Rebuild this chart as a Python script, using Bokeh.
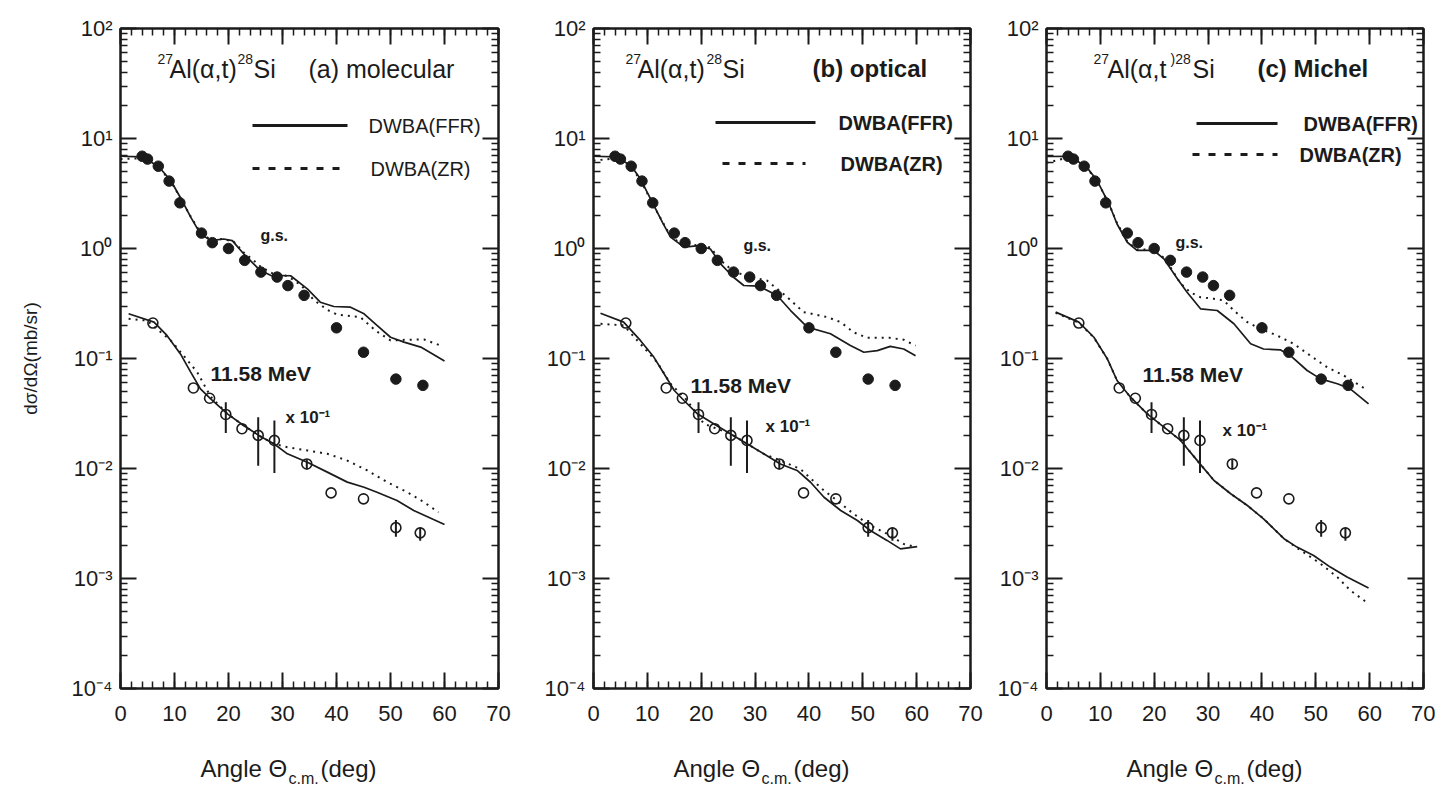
from bokeh.plotting import figure
from bokeh.models import (Range1d, LinearAxis, LogAxis, FixedTicker, SingleIntervalTicker,
                          CustomJSTickFormatter, Label, Arrow)
from bokeh.layouts import row, column
from bokeh.embed import file_html
from bokeh.resources import INLINE

# ---------------- data ----------------
# ground state (g.s.) experimental points
ANGLE_GS = [4, 5, 7, 9, 11, 15, 17, 20, 23, 26, 29, 31, 34, 40, 45, 51, 56]
SIGMA_GS = [6.9, 6.5, 5.6, 4.1, 2.6, 1.38, 1.13, 1.0, 0.78, 0.61, 0.55, 0.46, 0.375,
            0.19, 0.114, 0.065, 0.057]

# 11.58 MeV state (x 10^-1) experimental points with error bars
ANGLE_EX = [6, 13.5, 16.5, 19.5, 22.5, 25.5, 28.5, 34.5, 39, 45, 51, 55.5]
SIGMA_EX = [0.21, 0.054, 0.0435, 0.031, 0.023, 0.020, 0.018, 0.011, 0.0060, 0.0053, 0.0029, 0.0026]
EX_LO = [0.21, 0.054, 0.0435, 0.021, 0.023, 0.0106, 0.0091, 0.0098, 0.0060, 0.0053, 0.0024, 0.0022]
EX_HI = [0.21, 0.054, 0.0435, 0.040, 0.023, 0.0293, 0.0273, 0.0121, 0.0060, 0.0053, 0.0034, 0.0029]

# (a) molecular
A_GS_FFR_X = [0, 4, 7, 9.3, 11.4, 13, 14.8, 16.7, 19.1, 20.7, 22.8, 25.9, 27.8, 31.5, 34.6, 37,
              39.5, 42.6, 45.1, 47.5, 50, 52.5, 55.6, 60]
A_GS_FFR_Y = [6.9, 6.8, 5.6, 4.15, 2.73, 1.93, 1.36, 1.18, 1.22, 1.18, 0.895, 0.63, 0.57, 0.565,
              0.43, 0.325, 0.297, 0.293, 0.255, 0.2, 0.156, 0.141, 0.127, 0.095]
A_GS_ZR_X = [0, 4, 7, 9.3, 11.4, 13, 14.8, 16.7, 19.1, 21, 23, 24.4, 26, 28, 31, 33.5, 35.8,
             38.3, 40.1, 44.4, 47.2, 50, 53.1, 56.2, 59.3]
A_GS_ZR_Y = [6.5, 6.6, 5.5, 4.1, 2.7, 1.95, 1.4, 1.2, 1.22, 1.15, 0.9, 0.8, 0.68, 0.6, 0.56, 0.46,
             0.34, 0.277, 0.251, 0.238, 0.18, 0.146, 0.148, 0.149, 0.131]
A_EX_FFR_X = [1.5, 6.2, 8.6, 11.1, 13, 14.8, 16.7, 19.8, 22.8, 25.6, 28.4, 30.9, 34.6, 38.3, 42,
              45.1, 47.5, 51.2, 54.3, 60]
A_EX_FFR_Y = [0.255, 0.214, 0.162, 0.110, 0.0752, 0.053, 0.043, 0.0314, 0.0246, 0.020, 0.0168,
              0.0136, 0.0114, 0.00927, 0.00752, 0.00676, 0.00609, 0.00512, 0.00415, 0.0031]
A_EX_ZR_X = [1.5, 4.9, 9.3, 11.7, 14.2, 16.7, 19.8, 22.8, 25.6, 28.4, 30.9, 34.6, 38.3, 42, 45.7,
             49.4, 53.1, 56.2, 58.9]
A_EX_ZR_Y = [0.23, 0.221, 0.146, 0.106, 0.0752, 0.045, 0.0314, 0.0246, 0.020, 0.0168, 0.0156,
             0.0146, 0.0136, 0.0118, 0.0096, 0.0075, 0.0061, 0.00494, 0.0040]

# (b) optical
B_GS_FFR_X = [0, 4.1, 6.9, 8.7, 10.9, 12.8, 14.3, 16.8, 19.6, 21.7, 23.6, 26, 27.9, 30.7, 34.1,
              36.6, 39.7, 44, 47.7, 50.2, 52.7, 55.1, 57.6, 59.8]
B_GS_FFR_Y = [6.9, 6.8, 5.7, 4.3, 2.64, 1.73, 1.27, 1.03, 1.06, 0.99, 0.726, 0.548, 0.461, 0.455,
              0.374, 0.273, 0.193, 0.168, 0.131, 0.114, 0.118, 0.129, 0.122, 0.106]
B_GS_ZR_X = [0, 4.1, 6.9, 8.7, 10.9, 12.8, 14.3, 16.8, 19.6, 21.7, 23.6, 26, 29.1, 32.2, 36, 39,
             43.4, 45.9, 48.3, 50.8, 55.1, 57.6, 59.8]
B_GS_ZR_Y = [6.3, 6.6, 5.6, 4.2, 2.6, 1.75, 1.3, 1.05, 1.08, 1.02, 0.78, 0.62, 0.548, 0.512, 0.36,
             0.264, 0.238, 0.214, 0.173, 0.154, 0.154, 0.148, 0.131]
B_EX_FFR_X = [1.3, 5.6, 8.7, 11.2, 13.1, 15, 16.8, 19.3, 22.3, 25.4, 28.5, 31.6, 34.7, 37.8, 40.3,
              42.8, 45.9, 49, 51.4, 54.5, 57, 60.1]
B_EX_FFR_Y = [0.258, 0.214, 0.146, 0.103, 0.0726, 0.0512, 0.0415, 0.0314, 0.0255, 0.0207, 0.0168,
              0.0136, 0.011, 0.0096, 0.0075, 0.00548, 0.00415, 0.00337, 0.00273, 0.00222, 0.00186,
              0.00195]
B_EX_ZR_X = [1.3, 5.6, 8.7, 11.8, 14.3, 17.4, 20.5, 25.4, 28.5, 31.6, 34.7, 38.4, 42.8, 45.2, 48.3,
             51.4, 54.5, 57.6, 59.8]
B_EX_ZR_Y = [0.207, 0.2, 0.136, 0.0927, 0.0589, 0.0415, 0.0255, 0.0207, 0.0168, 0.0136, 0.0118,
             0.0099, 0.0063, 0.00512, 0.00387, 0.00303, 0.00255, 0.00206, 0.00193]

# (c) Michel
C_GS_FFR_X = [0, 3.8, 7.2, 9.4, 11.6, 13.1, 15, 16.8, 19.9, 21.8, 24.3, 26.1, 28.6, 31.7, 34.8,
              37.9, 40.3, 43.4, 45.3, 48.4, 50.9, 54, 56.4, 59.8]
C_GS_FFR_Y = [6.86, 6.9, 5.7, 4.15, 2.55, 1.67, 1.14, 0.96, 0.96, 0.805, 0.53, 0.40, 0.283, 0.273,
              0.207, 0.136, 0.122, 0.12, 0.106, 0.0778, 0.0653, 0.0589, 0.053, 0.0387]
C_GS_ZR_X = [0, 3.8, 7.2, 9.4, 11.6, 13.1, 15, 16.8, 19.9, 21.8, 23, 24.9, 26.7, 28.6, 31, 32.9,
             34.8, 37.3, 39.7, 42.8, 45.9, 49, 52.1, 55.2, 59.2]
C_GS_ZR_Y = [6.0, 6.7, 5.6, 4.1, 2.55, 1.7, 1.16, 0.98, 0.98, 0.82, 0.676, 0.48, 0.40, 0.36, 0.35,
             0.337, 0.273, 0.214, 0.186, 0.162, 0.136, 0.106, 0.0834, 0.07, 0.053]
C_EX_FFR_X = [1.7, 6, 8.8, 11.3, 13.1, 15.6, 18.7, 21.8, 24.9, 28, 31.1, 34.2, 37.3, 40.3, 44.1,
              46.5, 49.6, 52.7, 55.8, 59.8]
C_EX_FFR_Y = [0.264, 0.214, 0.156, 0.0993, 0.0631, 0.0445, 0.0314, 0.0238, 0.018, 0.0118, 0.00778,
              0.00589, 0.00461, 0.00349, 0.0023, 0.00193, 0.00162, 0.00127, 0.00103, 0.00082]
C_EX_ZR_X = [1.7, 6, 8.8, 11.3, 13.1, 15.6, 18.7, 21.8, 24.9, 28, 31.1, 34.2, 37.3, 40.3, 44.1,
             46.5, 50.9, 54, 56.4, 59.8]
C_EX_ZR_Y = [0.26, 0.212, 0.155, 0.099, 0.063, 0.0445, 0.0314, 0.0238, 0.018, 0.0118, 0.0078,
             0.0059, 0.0046, 0.0035, 0.0023, 0.0019, 0.00136, 0.00103, 0.00078, 0.00059]

Y_MAJOR = [1e-4, 1e-3, 1e-2, 1e-1, 1e0, 1e1, 1e2]
Y_MINOR = [m * d for d in [1e-4, 1e-3, 1e-2, 1e-1, 1e0, 1e1] for m in range(2, 10)]

LEGEND_LABELS = ["DWBA(FFR)", "DWBA(ZR)"]

# ---------------- style ----------------
INK = "#1b1b1b"
FONT = "Liberation Sans"
SUP = {"-": "\u207b", "0": "\u2070", "1": "\u00b9", "2": "\u00b2", "3": "\u00b3", "4": "\u2074",
       "5": "\u2075", "6": "\u2076", "7": "\u2077", "8": "\u2078", "9": "\u2079", ")": "\u207e"}

FMT_CODE = """
const sup = %s;
const e = Math.round(Math.log10(tick));
return '10' + String(e).split('').map(c => sup[c]).join('');
""" % ("{" + ",".join('"%s":"%s"' % (k, v) for k, v in SUP.items()) + "}")

FRAME_H = 660
TOP = 28
BOTTOM = 45
TITLE_H = 56


def sup(s):
    return "".join(SUP.get(c, c) for c in s)


def style_axis(ax):
    ax.axis_line_color = INK
    ax.axis_line_width = 2
    ax.major_tick_line_color = INK
    ax.minor_tick_line_color = INK
    ax.major_tick_line_width = 2
    ax.minor_tick_line_width = 1.5
    ax.major_tick_in = 16
    ax.major_tick_out = 0
    ax.minor_tick_in = 7
    ax.minor_tick_out = 0
    ax.major_label_text_font = FONT
    ax.major_label_text_font_size = "22px"
    ax.major_label_text_color = INK


def label(p, text, x, y, size, bold=False):
    p.add_layout(Label(x=x, y=y, x_units="screen", y_units="screen", text=text,
                       text_font=FONT, text_font_size="%dpx" % size,
                       text_font_style="bold" if bold else "normal",
                       text_baseline="middle", text_align="left", text_color=INK))


def sample(p, x0, x1, y, dash):
    p.add_layout(Arrow(x_start=x0, y_start=y, x_end=x1, y_end=y,
                       start_units="screen", end_units="screen", start=None, end=None,
                       line_color=INK, line_width=3, line_dash=dash))


def panel(cfg, curves):
    p = figure(x_range=Range1d(0, 70), y_range=Range1d(1e-4, 1e2), y_axis_type="log",
               frame_width=cfg["fw"], frame_height=FRAME_H,
               min_border_left=cfg["bl"], min_border_right=cfg["br"],
               min_border_top=TOP, min_border_bottom=BOTTOM,
               output_backend="svg", toolbar_location=None)
    p.grid.visible = False
    p.outline_line_color = INK
    p.outline_line_width = 2
    p.background_fill_color = "white"
    p.border_fill_color = "white"

    xb = p.below[0]
    yl = p.left[0]
    xb.ticker = SingleIntervalTicker(interval=10, num_minor_ticks=5)
    yl.ticker = FixedTicker(ticks=Y_MAJOR, minor_ticks=Y_MINOR)
    yl.formatter = CustomJSTickFormatter(code=FMT_CODE)
    xb.major_label_standoff = 17
    yl.major_label_standoff = 8
    xt = LinearAxis(ticker=SingleIntervalTicker(interval=10, num_minor_ticks=5),
                    formatter=CustomJSTickFormatter(code="return '';"))
    yr = LogAxis(ticker=FixedTicker(ticks=Y_MAJOR, minor_ticks=Y_MINOR),
                 formatter=CustomJSTickFormatter(code="return '';"))
    p.add_layout(xt, "above")
    p.add_layout(yr, "right")
    for ax in (xb, yl, xt, yr):
        style_axis(ax)
    for ax in (xt, yr):
        ax.major_label_text_font_size = "8px"
        ax.major_label_text_color = None
        ax.major_label_standoff = 0

    if cfg.get("ylabel"):
        yl.axis_label = cfg["ylabel"]
        yl.axis_label_text_font = FONT
        yl.axis_label_text_font_size = "19px"
        yl.axis_label_text_font_style = "normal"
        yl.axis_label_text_color = INK
        yl.axis_label_standoff = 28

    gs_ffr_x, gs_ffr_y, gs_zr_x, gs_zr_y, ex_ffr_x, ex_ffr_y, ex_zr_x, ex_zr_y = curves
    p.line(gs_ffr_x, gs_ffr_y, line_color=INK, line_width=1.7)
    p.line(gs_zr_x, gs_zr_y, line_color=INK, line_width=2, line_dash="2 5")
    p.line(ex_ffr_x, ex_ffr_y, line_color=INK, line_width=1.7)
    p.line(ex_zr_x, ex_zr_y, line_color=INK, line_width=2, line_dash="2 5")

    p.segment(x0=ANGLE_EX, y0=EX_LO, x1=ANGLE_EX, y1=EX_HI, line_color=INK, line_width=2)
    p.scatter(ANGLE_EX, SIGMA_EX, marker="circle", size=10, fill_color=None,
              line_color=INK, line_width=1.6)
    p.scatter(ANGLE_GS, SIGMA_GS, marker="circle", size=10.5, fill_color=INK, line_color=INK)

    # legend drawn as sample lines plus labels
    (g0, g1, t1, y1), (h0, h1, t2, y2) = cfg["leg"]
    sample(p, g0, g1, y1, "solid")
    sample(p, h0, h1, y2, "7 9")
    lw = cfg["weight"] == "bold"
    label(p, LEGEND_LABELS[0], t1, y1, 20, bold=lw)
    label(p, LEGEND_LABELS[1], t2, y2, 20, bold=lw)

    # reaction title with superscripts
    for (txt, is_sup), x in zip(cfg["title"], cfg["tx"]):
        if is_sup:
            label(p, txt, x, 630, 14)
        else:
            label(p, txt, x, 620, 25)
    label(p, cfg["sub"], cfg["sx"], 620, cfg["subsize"], bold=lw)
    label(p, "g.s.", cfg["gs"][0], cfg["gs"][1], 16, bold=True)
    label(p, "11.58 MeV", cfg["ex"][0], cfg["ex"][1], 21, bold=True)
    label(p, "x 10" + sup("-1"), cfg["x10"][0], cfg["x10"][1], 17, bold=True)
    return p


TITLE_AB = [("27", True), ("Al(\u03b1,t)", False), ("28", True), ("Si", False)]
TITLE_C = [("27", True), ("Al(\u03b1,t", False), (")28", True), ("Si", False)]

cfg_a = dict(fw=378, bl=120, br=20, ylabel="d\u03c3/d\u03a9(mb/sr)",
             title=TITLE_AB, tx=[37, 49, 117, 133], sub="(a) molecular", sx=188, subsize=25,
             leg=((132, 227, 248, 563), (132, 222, 250, 520)), weight="normal",
             gs=(140, 453), ex=(90, 315), x10=(165, 271))
cfg_b = dict(fw=377, bl=75, br=20, ylabel=None,
             title=TITLE_AB, tx=[32, 44, 113, 129], sub="(b) optical", sx=219, subsize=24,
             leg=((122, 222, 245, 566), (129, 212, 247, 525)), weight="bold",
             gs=(150, 443), ex=(97, 303), x10=(172, 262))
cfg_c = dict(fw=377, bl=56, br=12, ylabel=None,
             title=TITLE_C, tx=[47, 61, 124, 146], sub="(c) Michel", sx=211, subsize=24,
             leg=((150, 231, 257, 565), (146, 231, 253, 534)), weight="bold",
             gs=(129, 446), ex=(96, 314), x10=(176, 258))

pa = panel(cfg_a, (A_GS_FFR_X, A_GS_FFR_Y, A_GS_ZR_X, A_GS_ZR_Y,
                   A_EX_FFR_X, A_EX_FFR_Y, A_EX_ZR_X, A_EX_ZR_Y))
pb = panel(cfg_b, (B_GS_FFR_X, B_GS_FFR_Y, B_GS_ZR_X, B_GS_ZR_Y,
                   B_EX_FFR_X, B_EX_FFR_Y, B_EX_ZR_X, B_EX_ZR_Y))
pc = panel(cfg_c, (C_GS_FFR_X, C_GS_FFR_Y, C_GS_ZR_X, C_GS_ZR_Y,
                   C_EX_FFR_X, C_EX_FFR_Y, C_EX_ZR_X, C_EX_ZR_Y))

# strip underneath holding the x-axis titles "Angle Θ_c.m.(deg)"
total_w = sum(c["bl"] + c["fw"] + c["br"] for c in (cfg_a, cfg_b, cfg_c))
pt = figure(width=total_w, height=TITLE_H, x_range=Range1d(0, total_w),
            y_range=Range1d(0, TITLE_H), x_axis_location=None, y_axis_location=None,
            min_border=0, output_backend="svg", toolbar_location=None)
pt.grid.visible = False
pt.outline_line_color = None
pt.background_fill_color = "white"
pt.border_fill_color = "white"
left = 0
for c in (cfg_a, cfg_b, cfg_c):
    fl = left + c["bl"]
    label(pt, "Angle \u0398", fl + 80, 21, 24)
    label(pt, "c.m.", fl + 168, 11, 16)
    label(pt, "(deg)", fl + 200, 21, 24)
    left += c["bl"] + c["fw"] + c["br"]

layout = column(row(pa, pb, pc, spacing=0), pt, spacing=0)

with open("out.html", "w", encoding="utf-8") as f:
    f.write(file_html(layout, INLINE, title="27Al(a,t)28Si"))
